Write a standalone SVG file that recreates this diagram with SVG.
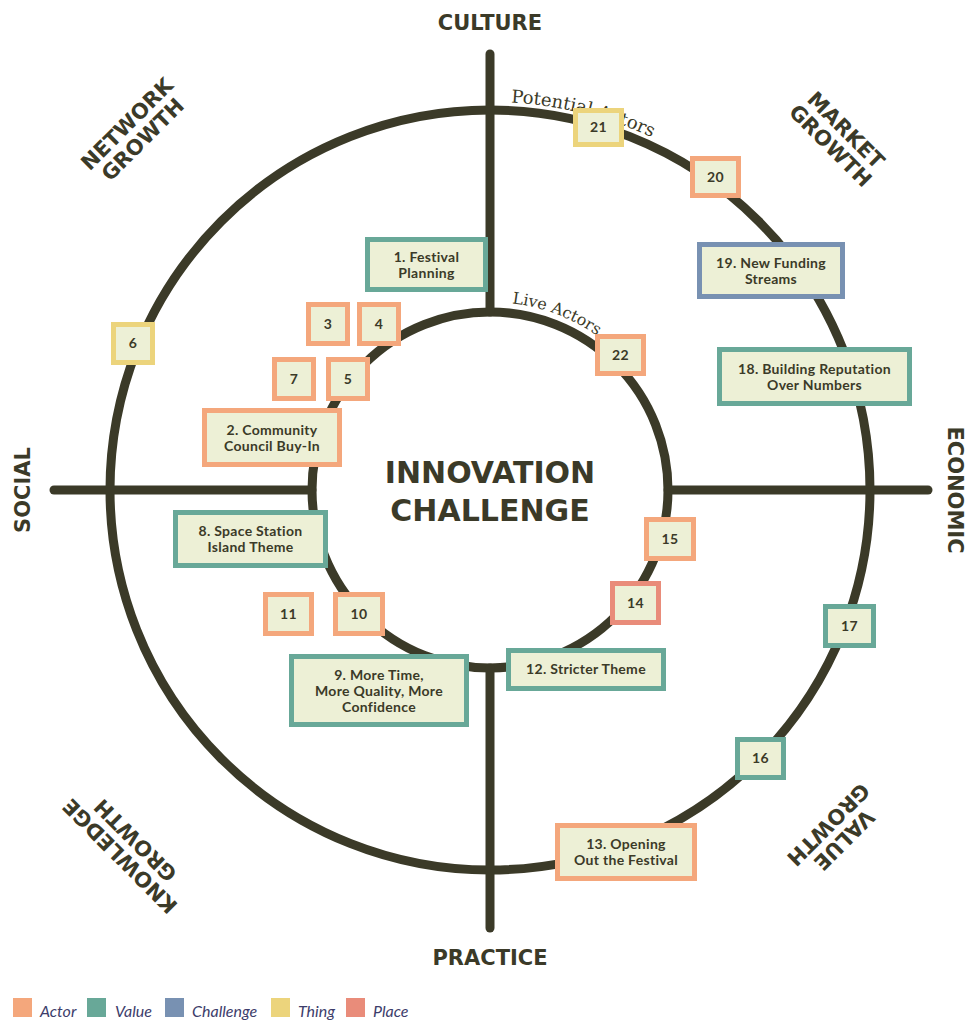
<svg xmlns="http://www.w3.org/2000/svg" width="968" height="1021" viewBox="0 0 968 1021">
<style>
.ln{fill:none;stroke:#3b3a28;stroke-width:9;stroke-linecap:round}
.bx{fill:#edf0d6;stroke-width:5}
.actor{stroke:#f4a77c}
.value{stroke:#68a898}
.chal{stroke:#7891b2}
.thing{stroke:#ecd47c}
.place{stroke:#e98c7a}
.bt{font-family:Lato,"Noto Sans",sans-serif;font-weight:700;font-size:14px;letter-spacing:0.3px;fill:#3b3a28;text-anchor:middle}
.ax{font-family:"DejaVu Sans",sans-serif;font-weight:700;font-size:21px;fill:#3b3a28;text-anchor:middle}
.ctr{font-family:"DejaVu Sans",sans-serif;font-weight:700;font-size:30px;fill:#3b3a28;text-anchor:middle}
.arc{font-family:"DejaVu Serif","Liberation Serif",serif;fill:#3b3a28}
.lg{font-family:Lato,"Noto Sans",sans-serif;font-style:italic;font-size:16px;fill:#3d3d6b}
</style>
<defs>
<path id="outerArc" d="M490,102 A388,388 0 0 1 878,490"/>
<path id="innerArc" d="M490,302 A188,188 0 0 1 678,490"/>
</defs>
<g id="connectors">
<circle class="ln" cx="490" cy="490" r="380"/>
<circle class="ln" cx="490" cy="490" r="178"/>
<line class="ln" x1="490" y1="54" x2="490" y2="312"/>
<line class="ln" x1="490" y1="668" x2="490" y2="928"/>
<line class="ln" x1="54" y1="490" x2="312" y2="490"/>
<line class="ln" x1="668" y1="490" x2="928" y2="490"/>
</g>
<g id="axis-labels">
<text class="ax" x="490" y="30">CULTURE</text>
<text class="ax" x="490" y="965">PRACTICE</text>
<text class="ax" transform="translate(30,490) rotate(-90)">SOCIAL</text>
<text class="ax" transform="translate(948,490) rotate(90)">ECONOMIC</text>
<text class="ax" transform="translate(135,132) rotate(-45)"><tspan x="0" y="-4">NETWORK</tspan><tspan x="0" y="18">GROWTH</tspan></text>
<text class="ax" transform="translate(838,138) rotate(45)"><tspan x="0" y="-4">MARKET</tspan><tspan x="0" y="18">GROWTH</tspan></text>
<text class="ax" transform="translate(128,848) rotate(225)"><tspan x="0" y="-4">KNOWLEDGE</tspan><tspan x="0" y="18">GROWTH</tspan></text>
<text class="ax" transform="translate(836,832) rotate(135)"><tspan x="0" y="-4">VALUE</tspan><tspan x="0" y="18">GROWTH</tspan></text>
</g>
<g id="arc-labels">
<text class="arc" font-size="18"><textPath href="#outerArc" startOffset="21">Potential Actors</textPath></text>
<text class="arc" font-size="16"><textPath href="#innerArc" startOffset="22">Live Actors</textPath></text>
</g>
<g id="center">
<text class="ctr" x="490" y="483">INNOVATION</text>
<text class="ctr" x="490" y="521">CHALLENGE</text>
</g>
<g id="n1"><rect class="bx value" x="367.5" y="239.5" width="118" height="50"/><text class="bt" x="426.5" y="262">1. Festival</text><text class="bt" x="426.5" y="278">Planning</text></g>
<g id="n2"><rect class="bx actor" x="204.5" y="410.5" width="135" height="54"/><text class="bt" x="272" y="435">2. Community</text><text class="bt" x="272" y="451">Council Buy-In</text></g>
<g id="n3"><rect class="bx actor" x="308.5" y="304.5" width="39" height="39"/><text class="bt" x="328" y="329">3</text></g>
<g id="n4"><rect class="bx actor" x="359.5" y="304.5" width="39" height="39"/><text class="bt" x="379" y="329">4</text></g>
<g id="n5"><rect class="bx actor" x="328.5" y="359.5" width="39" height="39"/><text class="bt" x="348" y="384">5</text></g>
<g id="n6"><rect class="bx thing" x="113.5" y="324.5" width="39" height="38"/><text class="bt" x="133" y="348">6</text></g>
<g id="n7"><rect class="bx actor" x="274.5" y="359.5" width="39" height="39"/><text class="bt" x="294" y="384">7</text></g>
<g id="n8"><rect class="bx value" x="175.5" y="512.5" width="150" height="53"/><text class="bt" x="250.5" y="536">8. Space Station</text><text class="bt" x="250.5" y="552">Island Theme</text></g>
<g id="n9"><rect class="bx value" x="291.5" y="656.5" width="175" height="68"/><text class="bt" x="379" y="680">9. More Time,</text><text class="bt" x="379" y="696">More Quality, More</text><text class="bt" x="379" y="712">Confidence</text></g>
<g id="n10"><rect class="bx actor" x="335.5" y="594.5" width="47" height="39"/><text class="bt" x="359" y="619">10</text></g>
<g id="n11"><rect class="bx actor" x="265.5" y="594.5" width="46" height="39"/><text class="bt" x="288.5" y="619">11</text></g>
<g id="n12"><rect class="bx value" x="508.5" y="650.5" width="155" height="38"/><text class="bt" x="586" y="674">12. Stricter Theme</text></g>
<g id="n13"><rect class="bx actor" x="557.5" y="825.5" width="137" height="53"/><text class="bt" x="626" y="849">13. Opening</text><text class="bt" x="626" y="865">Out the Festival</text></g>
<g id="n14"><rect class="bx place" x="612.5" y="583.5" width="46" height="39"/><text class="bt" x="635.5" y="608">14</text></g>
<g id="n15"><rect class="bx actor" x="646.5" y="519.5" width="47" height="39"/><text class="bt" x="670" y="544">15</text></g>
<g id="n16"><rect class="bx value" x="737.5" y="739.5" width="46" height="38"/><text class="bt" x="760.5" y="763">16</text></g>
<g id="n17"><rect class="bx value" x="825.5" y="606.5" width="48" height="39"/><text class="bt" x="849.5" y="631">17</text></g>
<g id="n18"><rect class="bx value" x="719.5" y="349.5" width="190" height="54"/><text class="bt" x="814.5" y="374">18. Building Reputation</text><text class="bt" x="814.5" y="390">Over Numbers</text></g>
<g id="n19"><rect class="bx chal" x="699.5" y="244.5" width="143" height="52"/><text class="bt" x="771" y="268">19. New Funding</text><text class="bt" x="771" y="284">Streams</text></g>
<g id="n20"><rect class="bx actor" x="692.5" y="158.5" width="46" height="37"/><text class="bt" x="715.5" y="182">20</text></g>
<g id="n21"><rect class="bx thing" x="575.5" y="110.5" width="46" height="34"/><text class="bt" x="598.5" y="132">21</text></g>
<g id="n22"><rect class="bx actor" x="597.5" y="336.5" width="46" height="37"/><text class="bt" x="620.5" y="360">22</text></g>
<g id="legend">
<rect x="13" y="998" width="19" height="19" fill="#f4a77c"/><text class="lg" x="40" y="1017">Actor</text>
<rect x="87" y="998" width="19" height="19" fill="#68a898"/><text class="lg" x="115" y="1017">Value</text>
<rect x="165" y="998" width="19" height="19" fill="#7891b2"/><text class="lg" x="192" y="1017">Challenge</text>
<rect x="271" y="998" width="19" height="19" fill="#ecd47c"/><text class="lg" x="298" y="1017">Thing</text>
<rect x="346" y="998" width="19" height="19" fill="#e98c7a"/><text class="lg" x="373" y="1017">Place</text>
</g>
</svg>
